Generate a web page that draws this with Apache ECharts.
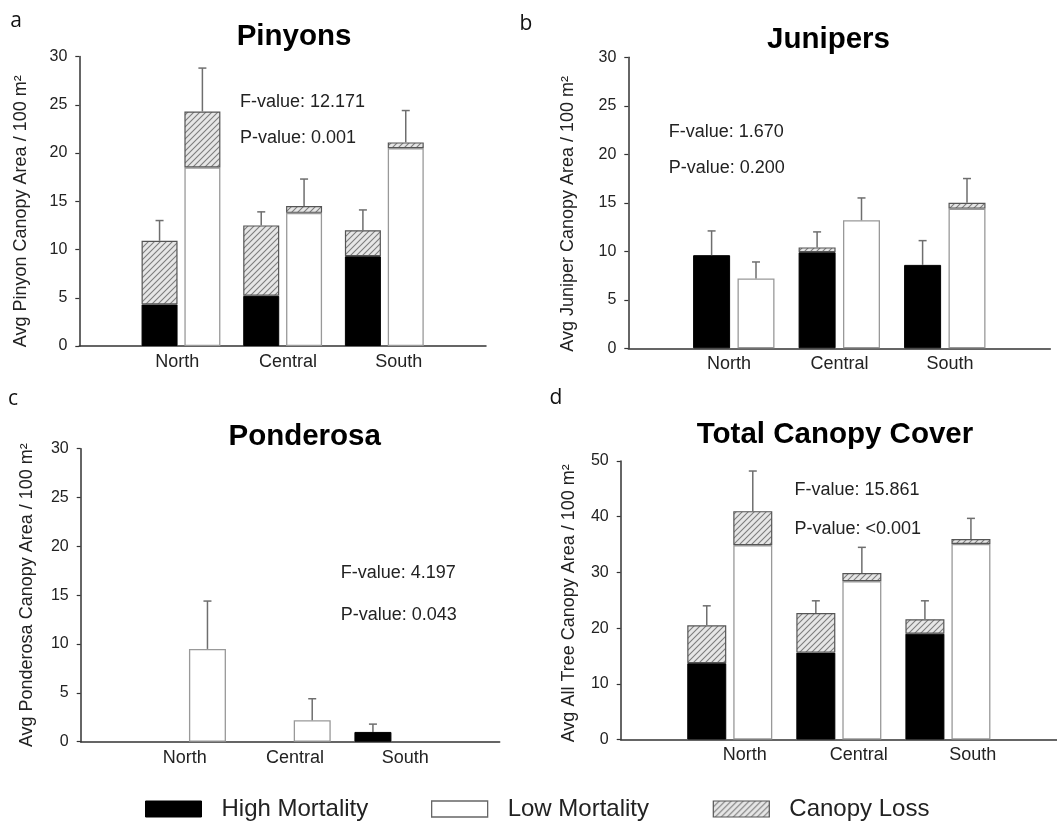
<!DOCTYPE html>
<html><head><meta charset="utf-8">
<script src="https://cdn.jsdelivr.net/npm/echarts@6/dist/echarts.min.js"></script>
<style>html,body{margin:0;padding:0;background:#fff}#c{width:1057px;height:825px}</style>
</head><body><div id="c"></div>
<script>
// ---------- data ----------
const categories = ['North', 'Central', 'South'];

// a: Pinyons
const pinyonHigh     = [4.3, 5.2, 9.3];
const pinyonHighLoss = [6.6, 7.3, 2.7];
const pinyonLow      = [18.5, 13.8, 20.5];
const pinyonLowLoss  = [5.8, 0.7, 0.6];
const pinyonHighErr  = [2.1, 1.4, 2.1];
const pinyonLowErr   = [4.5, 2.8, 3.3];

// b: Junipers
const juniperHigh     = [9.6, 9.9, 8.6];
const juniperHighLoss = [0, 0.5, 0];
const juniperLow      = [7.2, 13.2, 14.4];
const juniperLowLoss  = [0, 0, 0.6];
const juniperHighErr  = [2.5, 1.6, 2.5];
const juniperLowErr   = [1.7, 2.3, 2.5];

// c: Ponderosa
const ponderosaHigh     = [0, 0, 1.0];
const ponderosaHighLoss = [0, 0, 0];
const ponderosaLow      = [9.5, 2.2, 0];
const ponderosaLowLoss  = [0, 0, 0];
const ponderosaHighErr  = [0, 0, 0.8];
const ponderosaLowErr   = [4.9, 2.2, 0];

// d: Total canopy cover
const totalHigh     = [13.7, 15.6, 19.0];
const totalHighLoss = [6.8, 7.1, 2.6];
const totalLow      = [34.9, 28.4, 35.1];
const totalLowLoss  = [6.1, 1.5, 0.9];
const totalHighErr  = [3.5, 2.2, 3.3];
const totalLowErr   = [7.2, 4.6, 3.7];

const titles = ['Pinyons', 'Junipers', 'Ponderosa', 'Total Canopy Cover'];
const yNames = ['Avg Pinyon Canopy Area / 100 m²', 'Avg Juniper Canopy Area / 100 m²',
                'Avg Ponderosa Canopy Area / 100 m²', 'Avg All Tree Canopy Area / 100 m²'];
const stats = [['F-value: 12.171', 'P-value: 0.001'], ['F-value: 1.670', 'P-value: 0.200'],
               ['F-value: 4.197', 'P-value: 0.043'], ['F-value: 15.861', 'P-value: <0.001']];
const panelLetters = ['a', 'b', 'c', 'd'];
const yMaxes = [30, 30, 30, 50];
const ySteps = [5, 5, 5, 10];
const seriesNames = ['High Mortality', 'Low Mortality', 'Canopy Loss'];

// ---------- layout (styling only) ----------
const FONT = '"Liberation Sans", Arial, Helvetica, sans-serif';
const layout = [
  {grid:{left:79.3, top:56.5, width:406.7, height:289.5}, lab:{left:121.9, width:332.3}, bw:36, gap:0.19, nameGap:49, namePad:20,
   title:[294, 37], letter:[16, 21], stat:[240, 101.7, 138.3]},
  {grid:{left:628.3, top:57.3, width:422, height:291}, lab:{left:673.8, width:331.5}, bw:37, gap:0.2, nameGap:51, namePad:22,
   title:[828.5, 40], letter:[526, 24], stat:[668.7, 132.3, 168.3]},
  {grid:{left:80.7, top:448.7, width:419, height:293}, lab:{left:129.6, width:330.9}, bw:37, gap:0.19, nameGap:45, namePad:0,
   title:[304.7, 436.7], letter:[13, 399], stat:[340.8, 573.3, 615]},
  {grid:{left:620.7, top:461, width:441, height:278.5}, lab:{left:687.7, width:342}, bw:39, gap:0.18, nameGap:43, namePad:6,
   title:[835, 435], letter:[556, 398], stat:[794.5, 490, 529]}
];

const panelData = [
  [pinyonHigh, pinyonHighLoss, pinyonLow, pinyonLowLoss, pinyonHighErr, pinyonLowErr],
  [juniperHigh, juniperHighLoss, juniperLow, juniperLowLoss, juniperHighErr, juniperLowErr],
  [ponderosaHigh, ponderosaHighLoss, ponderosaLow, ponderosaLowLoss, ponderosaHighErr, ponderosaLowErr],
  [totalHigh, totalHighLoss, totalLow, totalLowLoss, totalHighErr, totalLowErr]
];

function makeHatch() {
  const c = document.createElement('canvas'); c.width = 6; c.height = 6;
  const g = c.getContext('2d');
  g.fillStyle = '#e6e6e6'; g.fillRect(0, 0, 6, 6);
  g.strokeStyle = '#7d7d7d'; g.lineWidth = 1.1;
  g.beginPath();
  g.moveTo(0, 6); g.lineTo(6, 0);
  g.moveTo(-1, 1); g.lineTo(1, -1);
  g.moveTo(5, 7); g.lineTo(7, 5);
  g.stroke();
  return c;
}
const hatch = {image: makeHatch(), repeat: 'repeat'};

const padCats = ['', ...categories, ''];
const pad = arr => ['-', ...arr.map(v => v > 0 ? v : '-'), '-'];

const grids = [], xAxes = [], yAxes = [], series = [], graphics = [];

layout.forEach((L, i) => {
  const [high, highLoss, low, lowLoss, highErr, lowErr] = panelData[i];
  grids.push(Object.assign({containLabel:false}, L.grid));
  xAxes.push({type:'category', gridIndex:i, data:padCats, boundaryGap:false,
    axisLine:{lineStyle:{color:'#333', width:1.5}}, axisTick:{show:false}, axisLabel:{show:false}, splitLine:{show:false}});
  yAxes.push({type:'value', gridIndex:i, min:0, max:yMaxes[i], interval:ySteps[i],
    name:yNames[i], nameLocation:'middle', nameGap:L.nameGap,
    nameTextStyle:{fontSize:18, color:'#222', fontFamily:FONT, padding:[0, L.namePad, 0, 0]},
    axisLine:{show:true, lineStyle:{color:'#333', width:1.5}},
    axisTick:{show:true, length:4, lineStyle:{color:'#333', width:1.2}},
    axisLabel:{fontSize:16, color:'#222', fontFamily:FONT, margin:12},
    splitLine:{show:false}});

  const common = {type:'bar', xAxisIndex:i, yAxisIndex:i, barWidth:L.bw, barGap:(L.gap*100)+'%', animation:false};
  series.push(Object.assign({}, common, {name:seriesNames[0], stack:'h'+i, data:pad(high),
    itemStyle:{color:'#000', borderColor:'#000', borderWidth:1}}));
  series.push(Object.assign({}, common, {name:seriesNames[2], stack:'h'+i, data:pad(highLoss),
    itemStyle:{color:hatch, borderColor:'#555', borderWidth:1.2}}));
  series.push(Object.assign({}, common, {name:seriesNames[1], stack:'l'+i, data:pad(low),
    itemStyle:{color:'#fff', borderColor:'#999', borderWidth:1.3}}));
  series.push(Object.assign({}, common, {name:seriesNames[2], stack:'l'+i, data:pad(lowLoss),
    itemStyle:{color:hatch, borderColor:'#555', borderWidth:1.2}}));

  const off = L.bw * (1 + L.gap) / 2;
  [[high, highLoss, highErr, -off], [low, lowLoss, lowErr, off]].forEach(([base, loss, err, o]) => {
    const d = [];
    categories.forEach((c, j) => {
      if (err[j] > 0) { const t = base[j] + loss[j]; d.push([j + 1, t, t + err[j]]); }
    });
    series.push({type:'custom', xAxisIndex:i, yAxisIndex:i, z:5, silent:true, animation:false,
      encode:{x:0, y:[1, 2]}, data:d,
      renderItem: function (params, api) {
        const p0 = api.coord([api.value(0), api.value(1)]);
        const p1 = api.coord([api.value(0), api.value(2)]);
        const cx = p0[0] + o;
        return {type:'group', children:[
          {type:'line', shape:{x1:cx, y1:p0[1], x2:cx, y2:p1[1]}, style:{stroke:'#6e6e6e', lineWidth:1.5}},
          {type:'line', shape:{x1:cx - 4, y1:p1[1], x2:cx + 4, y2:p1[1]}, style:{stroke:'#6e6e6e', lineWidth:1.5}}
        ]};
      }});
  });

  graphics.push({type:'text', style:{text:titles[i], x:L.title[0], y:L.title[1], textAlign:'center', textVerticalAlign:'middle',
    font:'bold 29.5px ' + FONT, fill:'#000'}});
  graphics.push({type:'text', style:{text:panelLetters[i], x:L.letter[0], y:L.letter[1], textAlign:'center', textVerticalAlign:'middle',
    font:'21px "Open Sans", ' + FONT, fill:'#111'}});
  graphics.push({type:'text', style:{text:stats[i][0], x:L.stat[0], y:L.stat[1], textAlign:'left', textVerticalAlign:'middle',
    font:'18px ' + FONT, fill:'#222'}});
  graphics.push({type:'text', style:{text:stats[i][1], x:L.stat[0], y:L.stat[2], textAlign:'left', textVerticalAlign:'middle',
    font:'18px ' + FONT, fill:'#222'}});
});

// label-only grids for category names
layout.forEach((L, i) => {
  const gi = 4 + i;
  grids.push({left:L.lab.left, width:L.lab.width, top:L.grid.top, height:L.grid.height});
  xAxes.push({type:'category', gridIndex:gi, data:categories, boundaryGap:true,
    axisLine:{show:false}, axisTick:{show:false}, splitLine:{show:false},
    axisLabel:{fontSize:18, color:'#222', fontFamily:FONT, margin:7}});
  yAxes.push({type:'value', gridIndex:gi, min:0, max:1, show:false});
});

const legendBase = {orient:'horizontal', top:797, itemWidth:56, itemHeight:16, padding:0, selectedMode:false,
  textStyle:{fontSize:24, color:'#222', fontFamily:FONT, padding:[0, 0, 0, 15]}};
const legends = [
  Object.assign({}, legendBase, {left:145, data:[{name:seriesNames[0], icon:'rect', itemStyle:{color:'#000', borderColor:'#000', borderWidth:1}}]}),
  Object.assign({}, legendBase, {left:431, data:[{name:seriesNames[1], icon:'rect', itemStyle:{color:'#fff', borderColor:'#666', borderWidth:1.3}}]}),
  Object.assign({}, legendBase, {left:712.7, data:[{name:seriesNames[2], icon:'rect', itemStyle:{color:hatch, borderColor:'#555', borderWidth:1.2}}]})
];

const chart = echarts.init(document.getElementById('c'), null, {renderer:'canvas'});
chart.setOption({
  animation:false,
  backgroundColor:'#fff',
  grid:grids, xAxis:xAxes, yAxis:yAxes, series:series, legend:legends,
  graphic:{elements:graphics}
});
</script></body></html>
